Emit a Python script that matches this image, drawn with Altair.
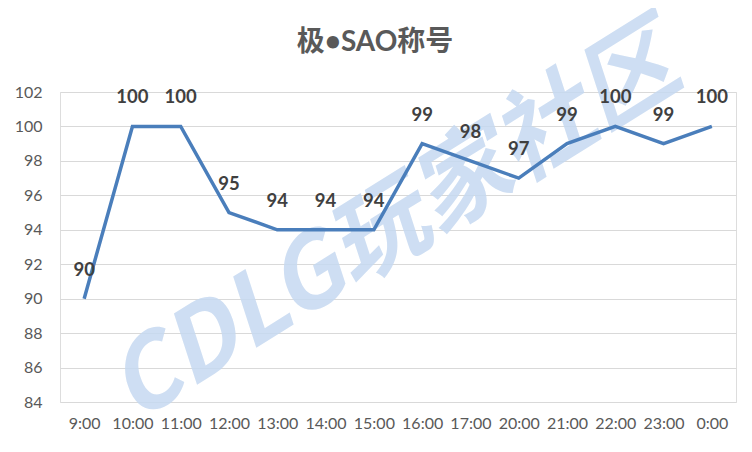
import altair as alt
import pandas as pd

times = ["9:00", "10:00", "11:00", "12:00", "13:00", "14:00", "15:00",
         "16:00", "17:00", "20:00", "21:00", "22:00", "23:00", "0:00"]
values = [90, 100, 100, 95, 94, 94, 94, 99, 98, 97, 99, 100, 99, 100]
y_ticks = [84, 86, 88, 90, 92, 94, 96, 98, 100, 102]
title_text = "极•SAO称号"

df = pd.DataFrame({"time": times, "value": values})

x = alt.X("time:N", sort=times, title=None,
          scale=alt.Scale(paddingInner=0, paddingOuter=0),
          axis=alt.Axis(labelAngle=0, ticks=False, domain=False, grid=False,
                        labelFont="Lato", labelFontSize=16, labelColor="#595959",
                        labelPadding=13, labelOverlap=False, zindex=1))
y = alt.Y("value:Q", title=None,
          scale=alt.Scale(domain=[84, 102], nice=False, zero=False),
          axis=alt.Axis(values=y_ticks, ticks=False, domain=False,
                        gridColor="#d9d9d9", gridWidth=1, labelOverlap=False,
                        labelFont="Lato", labelFontSize=16, labelColor="#595959",
                        labelPadding=18))

base = alt.Chart(df)
first = base.transform_filter(alt.datum.time == "9:00")

watermark = first.mark_text(
    text="CDLG玩家社区", font="Noto Sans CJK SC", fontWeight="bold",
    fontSize=98, fontStyle="italic", color="#c6d9f1", angle=328,
    align="center", baseline="middle", opacity=0.85
).encode(x=alt.value(335), y=alt.value(135))

title = first.mark_text(
    text=title_text, font="Lato, Noto Sans CJK SC", fontSize=28, fontWeight="bold",
    color="#595959", align="center", baseline="middle"
).encode(x=alt.value(315), y=alt.value(-49))

line = base.mark_line(color="#4a7ebb", strokeWidth=3.5).encode(x=x, y=y)

labels = base.mark_text(font="Lato", fontWeight="bold", fontSize=18.5,
                        color="#404040", dy=-29).encode(
    x=x, y=y, text="value:Q")

chart = alt.layer(watermark, line, labels, title).properties(
    width=676, height=310,
    padding={"left": 52, "top": 84, "right": 8, "bottom": 40},
    autosize="none",
).configure_view(stroke=None).configure(background="white")

chart.save("out.html", embed_options={"renderer": "svg", "actions": False})
